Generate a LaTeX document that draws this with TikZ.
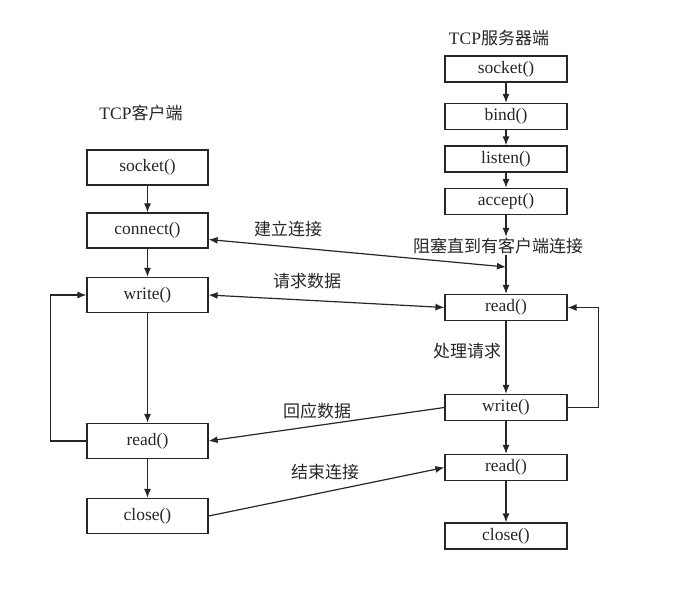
\documentclass[tikz,border=0pt]{standalone}
\usepackage{fontspec}
\setmainfont{Liberation Serif}
\newfontfamily\cjk{Noto Sans CJK SC}
\usetikzlibrary{arrows.meta}
\begin{document}
\begin{tikzpicture}[x=1pt,y=-1pt,
  every node/.style={font=\fontsize{17.5}{20}\selectfont, text=black!85},
  cbox/.style={draw=black!85, line width=1.2pt, minimum width=121pt, minimum height=35pt, inner sep=0pt},
  sbox/.style={draw=black!85, line width=1.2pt, minimum width=122pt, minimum height=26pt, inner sep=0pt},
  lbl/.style={inner sep=1pt, font=\cjk\fontsize{17}{20}\selectfont},
  arr/.style={draw=black!85, line width=1.2pt, -{Latex[length=9pt,width=7pt]}},
  darr/.style={draw=black!85, line width=1.2pt, {Latex[length=9pt,width=7pt]}-{Latex[length=9pt,width=7pt]}},
  ln/.style={draw=black!85, line width=1.2pt}]
\useasboundingbox (0,0) rectangle (674,609);
% titles
\node (ctitle) at (141,113) {TCP{\cjk\fontsize{17}{20}\selectfont 客户端}};
\node (stitle) at (499,38) {TCP{\cjk\fontsize{17}{20}\selectfont 服务器端}};
% client boxes
\node[cbox] (csock) at (147.5,167.5) {socket()};
\node[cbox] (ccon) at (147.5,230.5) {connect()};
\node[cbox] (cwrite) at (147.5,295) {write()};
\node[cbox] (cread) at (147.5,441) {read()};
\node[cbox] (cclose) at (147.5,516) {close()};
% server boxes
\node[sbox] (ssock) at (506,69) {socket()};
\node[sbox] (sbind) at (506,116.5) {bind()};
\node[sbox] (slisten) at (506,159) {listen()};
\node[sbox] (saccept) at (506,201.5) {accept()};
\node[lbl] (blk) at (498,246) {阻塞直到有客户端连接};
\node[sbox] (sread) at (506,307.5) {read()};
\node[sbox] (swrite) at (506,407.5) {write()};
\node[sbox] (sread2) at (506,467.5) {read()};
\node[sbox] (sclose) at (506,536) {close()};
\coordinate (sj) at (506,267);
% labels
\node[lbl] (l1) at (288,229) {建立连接};
\node[lbl] (l2) at (307,281) {请求数据};
\node[lbl] (l3) at (317,411) {回应数据};
\node[lbl] (l4) at (325,472) {结束连接};
\node[lbl] (l5) at (467,351) {处理请求};
% client flow
\draw[arr] (csock) -- (ccon);
\draw[arr] (ccon) -- (cwrite);
\draw[arr] (cwrite) -- (cread);
\draw[arr] (cread) -- (cclose);
\draw[arr] (cread.west) -- ++(-36,0) |- (cwrite.west);
% server flow
\draw[arr] (ssock) -- (sbind);
\draw[arr] (sbind) -- (slisten);
\draw[arr] (slisten) -- (saccept);
\draw[arr] (saccept.south) -- (saccept.south |- blk.north);
\draw[arr] (sread.north |- blk.south) -- (sread.north);
\draw[arr] (sread) -- (swrite);
\draw[arr] (swrite) -- (sread2);
\draw[arr] (sread2) -- (sclose);
\draw[arr] (swrite.east) -- ++(31,0) |- (sread.east);
% cross connections
\draw[darr] ([yshift=-9pt]ccon.east) -- (sj);
\draw[darr] (cwrite.east) -- (sread.west);
\draw[arr] (swrite.west) -- (cread.east);
\draw[arr] (cclose.east) -- (sread2.west);
\end{tikzpicture}
\end{document}
